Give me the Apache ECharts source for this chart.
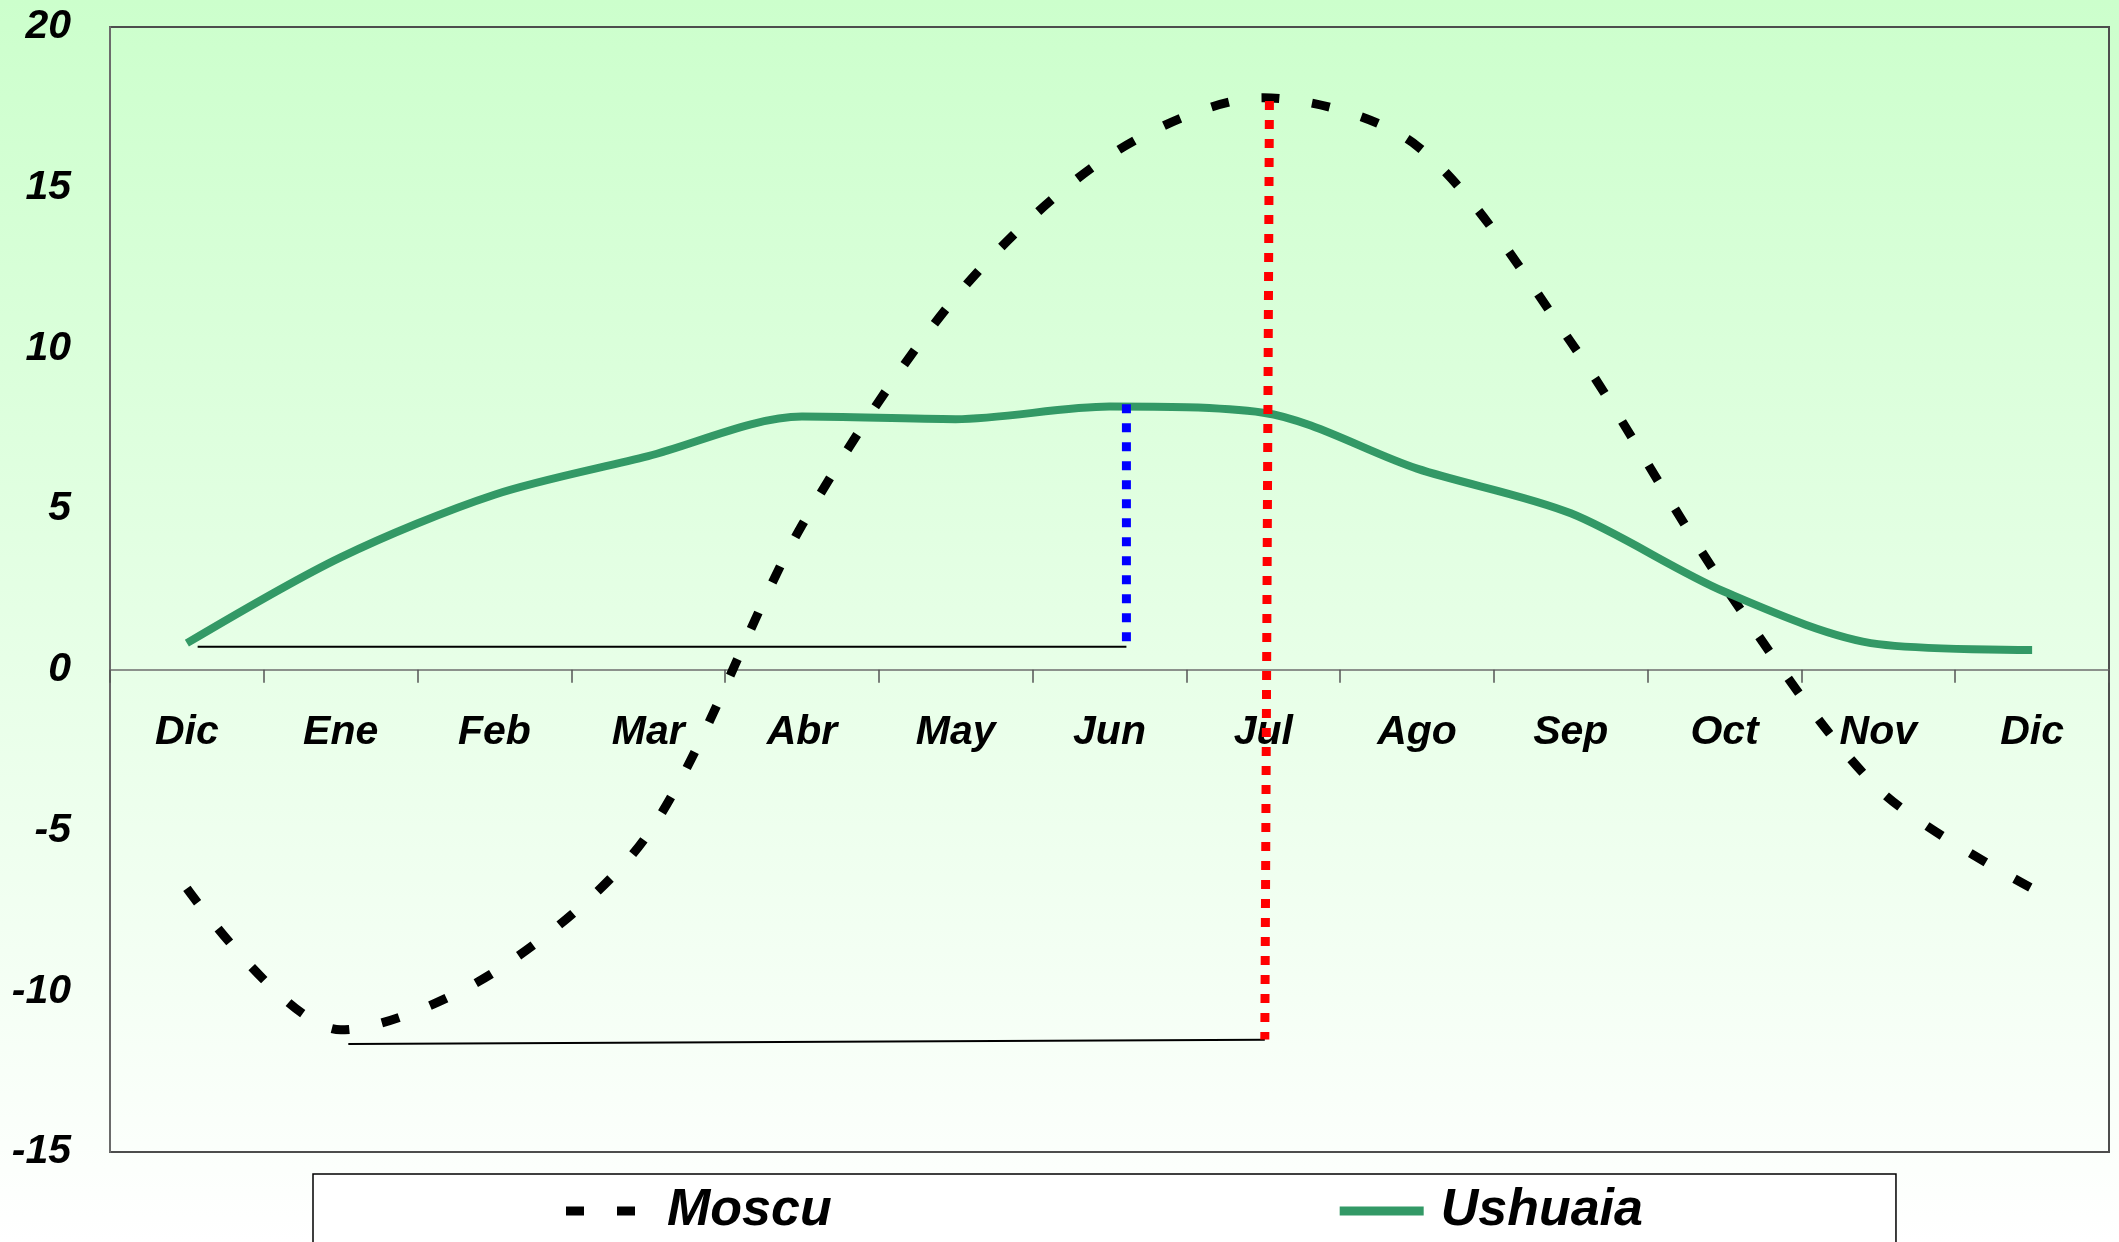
<!DOCTYPE html>
<html>
<head>
<meta charset="utf-8">
<script src="https://cdn.jsdelivr.net/npm/echarts@6/dist/echarts.min.js"></script>
<style>
  html, body { margin: 0; padding: 0; background: #fff; }
  #chart { width: 2119px; height: 1242px; }
</style>
</head>
<body>
<div id="chart"></div>
<script>
// Monthly mean temperature (°C), December to December
const months = ['Dic', 'Ene', 'Feb', 'Mar', 'Abr', 'May', 'Jun', 'Jul', 'Ago', 'Sep', 'Oct', 'Nov', 'Dic'];
const moscu = [-6.8, -11.2, -9.4, -5.1, 4.5, 11.6, 16.0, 17.8, 16.3, 10.2, 2.6, -3.7, -6.8];
const ushuaia = [0.83, 3.5, 5.45, 6.65, 7.88, 7.8, 8.19, 8.0, 6.26, 4.87, 2.43, 0.8, 0.62];

// Temperature axis
const yMin = -15;
const yMax = 20;
const yStep = 5;

// Amplitude guides: [month position, °C]
const ushuaiaPeakDrop = [[6.11, 8.26], [6.11, 0.72]];
const ushuaiaBase = [[0.07, 0.72], [6.11, 0.72]];
const moscuPeakDrop = [[7.04, 17.7], [7.01, -11.5]];
const moscuBase = [[1.05, -11.64], [7.01, -11.51]];

const FONT = "'Liberation Sans', Arial, sans-serif";

const GRID_TOP = 27;
const GRID_BOTTOM = 90;
const CHART_H = 1242;

const chart = echarts.init(document.getElementById('chart'), null, { renderer: 'canvas' });

// distance from the bottom edge of the plot up to the 0 °C line
const plotH = CHART_H - GRID_TOP - GRID_BOTTOM;
const zeroLift = plotH * (0 - yMin) / (yMax - yMin);

const guide = (data, color, width, dash) => ({
  type: 'line',
  xAxisIndex: 1,
  yAxisIndex: 0,
  data: data,
  symbol: 'none',
  silent: true,
  lineStyle: { color: color, width: width, type: dash, cap: 'butt' },
  z: 5
});

chart.setOption({
  animation: false,
  backgroundColor: {
    type: 'linear', x: 0, y: 0, x2: 0, y2: 1,
    colorStops: [
      { offset: 0, color: '#CCFFCC' },
      { offset: 1, color: '#FFFFFF' }
    ]
  },
  textStyle: { fontFamily: FONT },
  grid: {
    left: 110, right: 10, top: GRID_TOP, bottom: GRID_BOTTOM,
    show: true,
    borderColor: '#4d4d4d',
    borderWidth: 2,
    backgroundColor: 'transparent'
  },
  legend: {
    left: 313,
    top: 1174,
    orient: 'horizontal',
    padding: [11, 253, 80, 253],
    backgroundColor: '#FFFFFF',
    borderColor: '#000000',
    borderWidth: 1.5,
    itemWidth: 84,
    itemHeight: 9,
    itemGap: 508,
    selectedMode: false,
    symbolKeepAspect: false,
    itemStyle: { borderWidth: 0 },
    data: [
      { name: 'Moscu', icon: 'path://M0,0H18V9H0ZM51,0H69V9H51ZM83.9,4.4H84V4.6H83.9Z' },
      { name: 'Ushuaia', icon: 'rect' }
    ],
    textStyle: {
      fontFamily: FONT,
      fontSize: 52,
      fontWeight: 'bold',
      fontStyle: 'italic',
      color: '#000',
      padding: [0, 0, 0, 12]
    }
  },
  xAxis: [
    {
      type: 'category',
      data: months,
      boundaryGap: true,
      position: 'bottom',
      offset: -zeroLift,
      axisLine: { show: true, onZero: false, lineStyle: { color: '#6e6e6e', width: 1.5 } },
      axisTick: { show: true, length: 13, inside: false, lineStyle: { color: '#555', width: 1.5 } },
      axisLabel: {
        interval: 0,
        margin: 42,
        fontFamily: FONT,
        fontSize: 41,
        fontWeight: 'bold',
        fontStyle: 'italic',
        color: '#000'
      },
      splitLine: { show: false }
    },
    {
      type: 'value',
      min: -0.5,
      max: 12.5,
      show: false,
      axisLine: { onZero: false }
    }
  ],
  yAxis: {
    type: 'value',
    min: yMin,
    max: yMax,
    interval: yStep,
    axisLine: { show: true, onZero: false, lineStyle: { color: '#6b6b6b', width: 2 } },
    axisTick: { show: false },
    splitLine: { show: false },
    axisLabel: {
      margin: 39,
      fontFamily: FONT,
      fontSize: 41,
      fontWeight: 'bold',
      fontStyle: 'italic',
      color: '#000'
    }
  },
  series: [
    {
      name: 'Moscu',
      type: 'line',
      data: moscu,
      smooth: 0.3,
      symbol: 'none',
      lineStyle: { color: '#000000', width: 9, type: [18, 33], cap: 'butt' },
      itemStyle: { color: '#000000' },
      z: 3
    },
    {
      name: 'Ushuaia',
      type: 'line',
      data: ushuaia,
      smooth: 0.3,
      symbol: 'none',
      lineStyle: { color: '#339966', width: 8 },
      itemStyle: { color: '#339966' },
      z: 3
    },
    guide(ushuaiaBase, '#000000', 2, 'solid'),
    guide(moscuBase, '#000000', 2, 'solid'),
    guide(ushuaiaPeakDrop, '#0000FF', 9, [9, 10]),
    guide(moscuPeakDrop, '#FF0000', 9, [9, 10])
  ]
});
</script>
</body>
</html>
